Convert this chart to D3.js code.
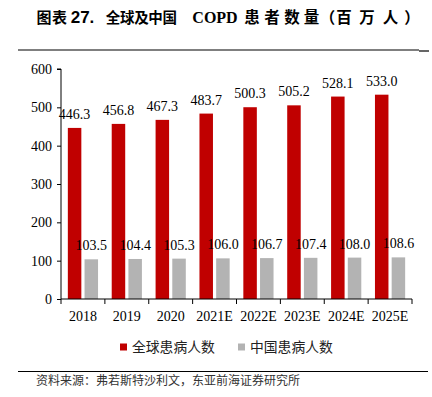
<!DOCTYPE html>
<html>
<head>
<meta charset="utf-8">
<script src="https://cdn.jsdelivr.net/npm/d3@7"></script>
<style>
  body { margin: 0; background: #fff; }
  svg { display: block; }
</style>
</head>
<body>
<div id="chart"></div>
<script>
// data
var years = ["2018", "2019", "2020", "2021E", "2022E", "2023E", "2024E", "2025E"];
var globalPatients = [446.3, 456.8, 467.3, 483.7, 500.3, 505.2, 528.1, 533.0];
var chinaPatients = [103.5, 104.4, 105.3, 106.0, 106.7, 107.4, 108.0, 108.6];
var seriesNames = ["全球患病人数", "中国患病人数"];
var yTicks = [0, 100, 200, 300, 400, 500, 600];

var W = 432, H = 397;
var margin = { top: 69, right: 20, bottom: 98, left: 61 },
    width = 412 - margin.left,
    height = 299 - margin.top;

var serif = "'Liberation Serif', 'Times New Roman', serif";
var sans = "'Liberation Sans', Arial, sans-serif";
var cjk = "'Noto Sans CJK SC', sans-serif";

var svg = d3.select("#chart").append("svg")
    .attr("width", W)
    .attr("height", H);

// title: the original is loosely spaced, so characters are set one by one
var titleParts = [
    { x: 44, text: "图", font: cjk, size: 15 },
    { x: 59.5, text: "表", font: cjk, size: 15 },
    { x: 82.5, text: "27.", font: sans, size: 17 },
    { x: 113, text: "全", font: cjk, size: 14.5 },
    { x: 127.2, text: "球", font: cjk, size: 14.5 },
    { x: 141.4, text: "及", font: cjk, size: 14.5 },
    { x: 155.6, text: "中", font: cjk, size: 14.5 },
    { x: 169.8, text: "国", font: cjk, size: 14.5 },
    { x: 215, text: "COPD", font: serif, size: 16 },
    { x: 252, text: "患", font: cjk, size: 15.5 },
    { x: 272, text: "者", font: cjk, size: 15.5 },
    { x: 292, text: "数", font: cjk, size: 15.5 },
    { x: 311.5, text: "量", font: cjk, size: 15.5 },
    { x: 327.5, text: "（", font: cjk, size: 15.5 },
    { x: 344, text: "百", font: cjk, size: 15.5 },
    { x: 367, text: "万", font: cjk, size: 15.5 },
    { x: 390.5, text: "人", font: cjk, size: 15.5 },
    { x: 412, text: "）", font: cjk, size: 15.5 }
];
svg.selectAll(".title")
    .data(titleParts)
    .enter().append("text")
    .attr("x", function(d) { return d.x; })
    .attr("y", 23)
    .attr("text-anchor", "middle")
    .style("font-family", function(d) { return d.font; })
    .style("font-size", function(d) { return d.size + "px"; })
    .style("font-weight", "bold")
    .style("fill", "#000")
    .text(function(d) { return d.text; });

// rules
svg.append("line").attr("x1", 18).attr("x2", 419).attr("y1", 50).attr("y2", 50)
    .attr("stroke", "#000").attr("stroke-width", 1.2);
svg.append("line").attr("x1", 419).attr("x2", 429).attr("y1", 51).attr("y2", 51)
    .attr("stroke", "#666").attr("stroke-width", 2);
svg.append("line").attr("x1", 18).attr("x2", 428).attr("y1", 371.5).attr("y2", 371.5)
    .attr("stroke", "#000").attr("stroke-width", 1.2);

var g = svg.append("g")
    .attr("transform", "translate(" + margin.left + "," + margin.top + ")");

var x = d3.scaleBand().domain(years).range([0, width]);
var y = d3.scaleLinear().domain([0, 600]).range([height, 0]);

var barW = 13.5, gap = 3.2;
var off0 = x.bandwidth() / 2 - gap / 2 - barW;
var off1 = x.bandwidth() / 2 + gap / 2;

// bars
g.selectAll(".bar-global")
    .data(globalPatients)
    .enter().append("rect")
    .attr("x", function(d, i) { return x(years[i]) + off0; })
    .attr("y", function(d) { return y(d); })
    .attr("width", barW)
    .attr("height", function(d) { return height - y(d); })
    .attr("fill", "#c00000");

g.selectAll(".bar-china")
    .data(chinaPatients)
    .enter().append("rect")
    .attr("x", function(d, i) { return x(years[i]) + off1; })
    .attr("y", function(d) { return y(d); })
    .attr("width", barW)
    .attr("height", function(d) { return height - y(d); })
    .attr("fill", "#b3b3b3");

// value labels
g.selectAll(".lab-global")
    .data(globalPatients)
    .enter().append("text")
    .attr("x", function(d, i) { return x(years[i]) + off0 + barW / 2; })
    .attr("y", function(d) { return y(d) - 9; })
    .attr("text-anchor", "middle")
    .style("font-family", serif)
    .style("font-size", "14px")
    .text(function(d) { return d.toFixed(1); });

g.selectAll(".lab-china")
    .data(chinaPatients)
    .enter().append("text")
    .attr("x", function(d, i) { return x(years[i]) + off1 + barW / 2; })
    .attr("y", function(d) { return y(d) - 9; })
    .attr("text-anchor", "middle")
    .style("font-family", serif)
    .style("font-size", "14px")
    .text(function(d) { return d.toFixed(1); });

// axes
var yAxis = g.append("g")
    .call(d3.axisLeft(y).tickValues(yTicks).tickSize(4).tickPadding(5));
var xAxis = g.append("g")
    .attr("transform", "translate(0," + height + ")")
    .call(d3.axisBottom(x).tickSize(5).tickPadding(7));

// x ticks sit at band edges, not centres
xAxis.selectAll(".tick line").remove();
xAxis.selectAll(".edge")
    .data(d3.range(years.length + 1))
    .enter().append("line")
    .attr("x1", function(i) { return i * x.step(); })
    .attr("x2", function(i) { return i * x.step(); })
    .attr("y1", 0).attr("y2", 5)
    .attr("stroke", "#000");

[xAxis, yAxis].forEach(function(a) {
    a.select(".domain").attr("stroke", "#000");
    a.selectAll("text")
        .style("font-family", serif)
        .style("font-size", "14px")
        .style("fill", "#000");
});
xAxis.select(".domain").attr("d", "M0,0H" + width);
yAxis.select(".domain").attr("d", "M-4,0H0V" + height);

// legend
var legendX = [120, 238];
var legend = svg.selectAll(".legend")
    .data(seriesNames)
    .enter().append("g")
    .attr("transform", function(d, i) { return "translate(" + legendX[i] + ",347)"; });
legend.append("rect")
    .attr("x", 0).attr("y", -3.5)
    .attr("width", 7).attr("height", 7)
    .attr("fill", function(d, i) { return i === 0 ? "#c00000" : "#b3b3b3"; });
legend.append("text")
    .attr("x", 12)
    .attr("y", 5)
    .style("font-family", cjk)
    .style("font-size", "13.8px")
    .style("fill", "#222")
    .text(function(d) { return d; });

// source
svg.append("text")
    .attr("x", 36)
    .attr("y", 385)
    .style("font-family", cjk)
    .style("font-size", "12px")
    .style("fill", "#333")
    .text("资料来源：弗若斯特沙利文，东亚前海证券研究所");
</script>
</body>
</html>
